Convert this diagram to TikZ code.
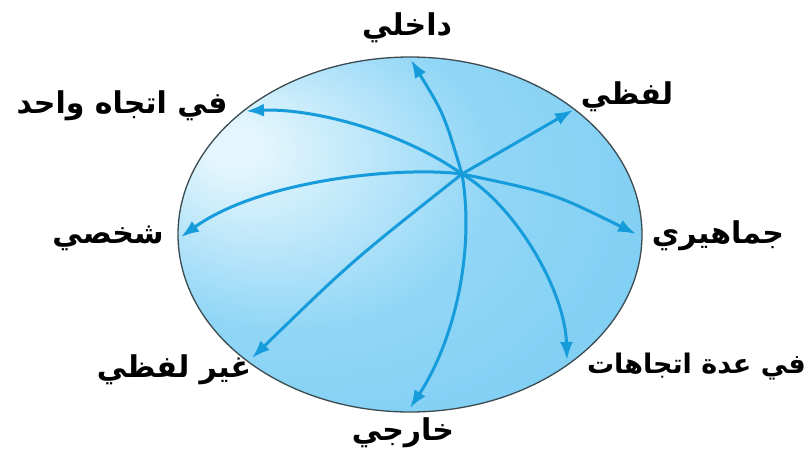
\documentclass[tikz,border=0pt]{standalone}
\usepackage{fontspec}
\usetikzlibrary{arrows.meta}
\TeXXeTstate=1
\newfontfamily\arabicfont[Script=Arabic]{DejaVu Sans}
\definecolor{hl}{RGB}{228,246,253}
\definecolor{midb}{RGB}{145,214,246}
\definecolor{outb}{RGB}{96,194,240}
\definecolor{arr}{RGB}{22,156,218}
\definecolor{rim}{RGB}{60,75,80}
\pgfdeclareradialshading{ballshade}{\pgfpoint{-20bp}{13bp}}{color(0bp)=(hl); color(3bp)=(hl); color(22bp)=(midb); color(65bp)=(outb)}
\begin{document}
\begin{tikzpicture}[x=1pt,y=-1pt,
  lbl/.style={inner sep=0pt, font=\arabicfont\bfseries\fontsize{30}{33}\selectfont},
  link/.style={draw=arr, line width=3pt, -{Latex[length=18pt,width=13pt]}}]
\useasboundingbox (0,0) rectangle (809,455);
\fill[white] (0,0) rectangle (809,455);
\shade[shading=ballshade] (410,234.5) ellipse [x radius=232pt, y radius=177.5pt];
\draw[rim, line width=1.3pt] (410,234.5) ellipse [x radius=232pt, y radius=177.5pt];
\coordinate (c) at (462,174);
\coordinate (t1) at (411,60);
\coordinate (t2) at (246,111);
\coordinate (t3) at (573,110);
\coordinate (t4) at (636,234);
\coordinate (t5) at (181,237);
\coordinate (t6) at (252,358);
\coordinate (t7) at (567,360);
\coordinate (t8) at (410,408);
\draw[link] (c) .. controls (444,114) .. (t1);
\draw[link] (c) .. controls (400,130) and (310,108) .. (t2);
\draw[link] (c) -- (t3);
\draw[link] (c) .. controls (553,193) .. (t4);
\draw[link] (c) .. controls (400,166) and (260,180) .. (t5);
\draw[link] (c) .. controls (352,261) .. (t6);
\draw[link] (c) .. controls (515,205) and (565,290) .. (t7);
\draw[link] (c) .. controls (475,250) and (455,340) .. (t8);
\node[lbl] (l1) at (407,28) {\beginR داخلي\endR};
\node[lbl] (l2) at (122,106) {\beginR في اتجاه واحد\endR};
\node[lbl] (l3) at (627,97) {\beginR لفظي\endR};
\node[lbl] (l4) at (718,236) {\beginR جماهيري\endR};
\node[lbl] (l5) at (108,238) {\beginR شخصي\endR};
\node[lbl] (l6) at (174,370) {\beginR غير لفظي\endR};
\node[lbl, anchor=east, font=\arabicfont\bfseries\fontsize{27}{30}\selectfont] (l7) at (806,367) {\beginR في عدة اتجاهات\endR};
\node[lbl] (l8) at (403,433) {\beginR خارجي\endR};
\end{tikzpicture}
\end{document}
